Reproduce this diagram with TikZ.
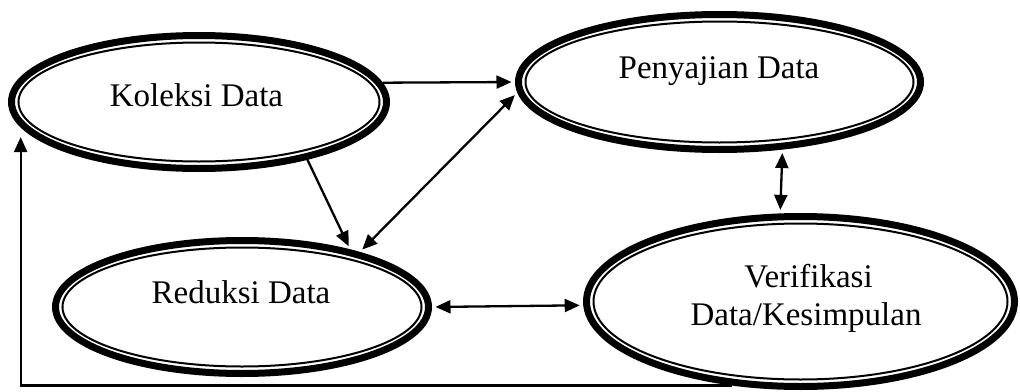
\documentclass[tikz,border=0pt]{standalone}
\usepackage{fontspec}
\setmainfont{Liberation Serif}
\usetikzlibrary{arrows.meta,shapes.geometric}
\begin{document}
\begin{tikzpicture}[x=1pt,y=-1pt,
  bub/.style={ellipse, draw, line width=7pt, fill=white, inner sep=0pt},
  inring/.style={line width=2pt},
  lbl/.style={font=\fontsize{33}{38}\selectfont, anchor=base, inner sep=0pt},
  tip/.tip={Triangle[length=15pt,width=13pt]},
  conn/.style={line width=2.3pt, -tip, shorten >=3.5pt},
  conn2/.style={line width=2.3pt, tip-tip, shorten >=3.5pt, shorten <=3.5pt},
]
\useasboundingbox (0,0) rectangle (1020,391);
% ellipses
\node[bub, minimum width=375pt, minimum height=133pt] (kol) at (199,102) {};
\draw[inring] (kol.center) ellipse [x radius=180.5pt, y radius=59.5pt];
\node[bub, minimum width=402pt, minimum height=135pt] (pen) at (719.5,82) {};
\draw[inring] (pen.center) ellipse [x radius=194pt, y radius=60.5pt];
\node[bub, minimum width=373pt, minimum height=133pt] (red) at (242,307) {};
\draw[inring] (red.center) ellipse [x radius=179.5pt, y radius=59.5pt];
\node[bub, minimum width=428pt, minimum height=170pt] (ver) at (800.5,301.5) {};
\draw[inring] (ver.center) ellipse [x radius=207pt, y radius=78pt];
% labels
\node[lbl] (kolT) at (196.5,106) {Koleksi Data};
\node[lbl] (penT) at (719,78) {Penyajian Data};
\node[lbl] (redT) at (241,303) {Reduksi Data};
\node[lbl] (verT1) at (808.5,287) {Verifikasi};
\node[lbl] (verT2) at (806,325) {Data/Kesimpulan};
% connectors
\draw[conn] (kol.6) -- (pen.180.3);
\draw[conn] (kol.-28.5) -- (red.28);
\draw[conn2] (red.25) -- (pen.183);
\draw[conn2] (pen.-47) -- (ver.103.5);
\draw[conn2] (red.-0.3) -- (ver.181.7);
\draw[conn, shorten >=10pt] (ver.231.5) -- (ver.231.5 -| kol.188.6) -- (kol.188.6);
\end{tikzpicture}
\end{document}
